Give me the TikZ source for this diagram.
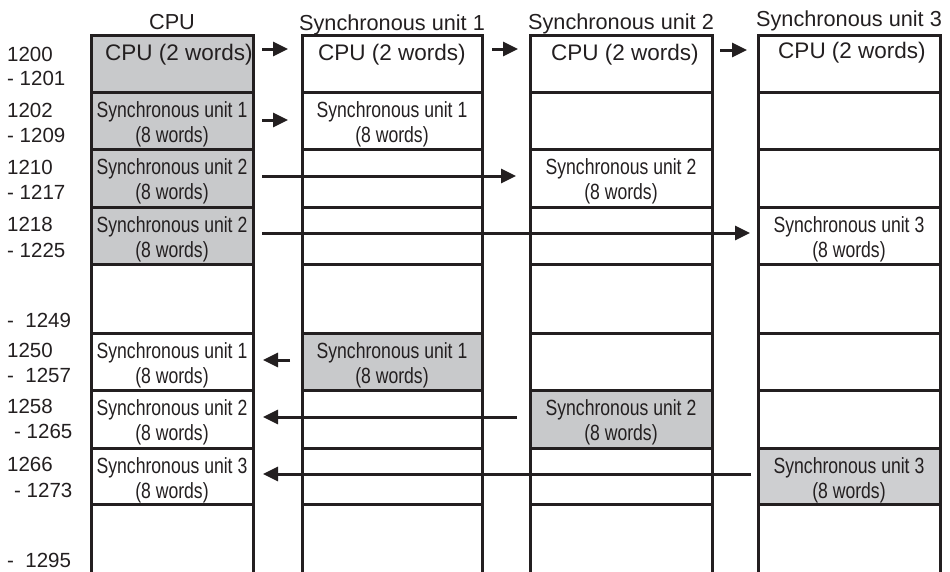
\documentclass[tikz,border=0pt]{standalone}
\usepackage{fontspec}
\setmainfont{Liberation Sans}
\newfontfamily\narrowfont[FakeStretch=0.8]{Liberation Sans}
\usetikzlibrary{arrows.meta}
\definecolor{ink}{RGB}{35,31,32}
\definecolor{cellgray}{RGB}{200,201,203}
\definecolor{cellgrayl}{RGB}{206,207,209}
\pgfdeclarelayer{bg}
\pgfsetlayers{bg,main}
\begin{document}
\begin{tikzpicture}[x=1pt,y=-1pt,
  cell/.style={draw=ink, line width=3pt, rectangle, inner sep=0pt, outer sep=0pt, anchor=north west},
  hdr/.style={text=ink, inner sep=0pt, anchor=base, font=\fontsize{21.7}{26}\selectfont},
  cputxt/.style={text=ink, inner sep=0pt, anchor=base, font=\fontsize{22.5}{27}\selectfont},
  ctxt/.style={text=ink, inner sep=0pt, anchor=base, font=\narrowfont\fontsize{22}{26}\selectfont},
  addr/.style={text=ink, inner sep=0pt, anchor=base west, font=\fontsize{20.5}{24}\selectfont},
  arr/.style={draw=ink, line width=3pt, -{Triangle[length=15pt,width=14pt]}}
]
\useasboundingbox (0,0) rectangle (950,571);

% cells
\foreach \c/\L/\W in {1/91/162, 2/302/180, 3/530/182, 4/758/182}{
  \foreach \r/\T/\H in {1/35/57, 2/92/57, 3/149/58, 4/207/57, 5/264/69, 6/333/57, 7/390/58, 8/448/56, 9/504/76}{
    \node[cell, minimum width=\W pt, minimum height=\H pt] (c\c r\r) at (\L,\T) {};
  }
}

% gray fills
\begin{pgfonlayer}{bg}
  \fill[cellgray] (c1r1.north west) rectangle (c1r4.south east);
  \fill[cellgray] (c2r6.north west) rectangle (c2r6.south east);
  \fill[cellgray] (c3r7.north west) rectangle (c3r7.south east);
  \fill[cellgrayl] (c4r8.north west) rectangle (c4r8.south east);
\end{pgfonlayer}

% headers
\node[hdr] (h1) at (172,29) {CPU};
\node[hdr] (h2) at (392,30) {Synchronous unit 1};
\node[hdr] (h3) at (621,29) {Synchronous unit 2};
\node[hdr] (h4) at (849,26) {Synchronous unit 3};

% row 1 texts
\node[cputxt] (t11) at (179,60) {CPU (2 words)};
\node[cputxt] (t21) at (392,60) {CPU (2 words)};
\node[cputxt] (t31) at (625,60) {CPU (2 words)};
\node[cputxt] (t41) at (852,58) {CPU (2 words)};

% two-line cell texts
\foreach \n/\x/\y/\u in {c1r2/172/117/1, c1r3/172/174/2, c1r4/172/232/2,
                         c2r2/392/117/1, c3r3/621/174/2, c4r4/849/232/3,
                         c1r6/172/358/1, c2r6/392/358/1,
                         c1r7/172/415/2, c3r7/621/415/2,
                         c1r8/172/473/3, c4r8/849/473/3}{
  \node[ctxt] (t\n a) at (\x,\y) {Synchronous unit \u};
  \node[ctxt] (t\n b) at (\x,\y+25) {(8 words)};
}

% addresses
\node[addr] (a1) at (7,61) {1200};
\node[addr] (a2) at (7,85) {- 1201};
\node[addr] (a3) at (7,117) {1202};
\node[addr] (a4) at (7,142) {- 1209};
\node[addr] (a5) at (7,174) {1210};
\node[addr] (a6) at (7,199) {- 1217};
\node[addr] (a7) at (7,231) {1218};
\node[addr] (a8) at (7,257) {- 1225};
\node[addr] (a9) at (7,327) {-~~1249};
\node[addr] (a10) at (7,357) {1250};
\node[addr] (a11) at (7,382) {-~~1257};
\node[addr] (a12) at (7,413) {1258};
\node[addr] (a13) at (14,438) {- 1265};
\node[addr] (a14) at (7,471) {1266};
\node[addr] (a15) at (14,497) {- 1273};
\node[addr] (a16) at (7,567) {-~~1295};

% arrows
\draw[arr, shorten <=9pt, shorten >=14pt] ([yshift=14.5pt]c1r1.east) -- ([yshift=14.5pt]c2r1.west);
\draw[arr, shorten <=10pt, shorten >=12pt] ([yshift=14.5pt]c2r1.east) -- ([yshift=14.5pt]c3r1.west);
\draw[arr, shorten <=8pt, shorten >=11pt] ([yshift=13.5pt]c3r1.east) -- ([yshift=13.5pt]c4r1.west);
\draw[arr, shorten <=9pt, shorten >=14pt] ([yshift=0.5pt]c1r2.east) -- ([yshift=0.5pt]c2r2.west);
\draw[arr, shorten <=9pt, shorten >=14pt] ([yshift=2pt]c1r3.east) -- ([yshift=2pt]c3r3.west);
\draw[arr, shorten <=9pt, shorten >=8pt] ([yshift=2.5pt]c1r4.east) -- ([yshift=2.5pt]c4r4.west);
\draw[arr, shorten <=12pt, shorten >=10pt] ([yshift=1.5pt]c2r6.west) -- ([yshift=1.5pt]c1r6.east);
\draw[arr, shorten <=13pt, shorten >=10pt] ([yshift=2pt]c3r7.west) -- ([yshift=2pt]c1r7.east);
\draw[arr, shorten <=7pt, shorten >=10pt] ([yshift=2pt]c4r8.west) -- ([yshift=2pt]c1r8.east);
\end{tikzpicture}
\end{document}
